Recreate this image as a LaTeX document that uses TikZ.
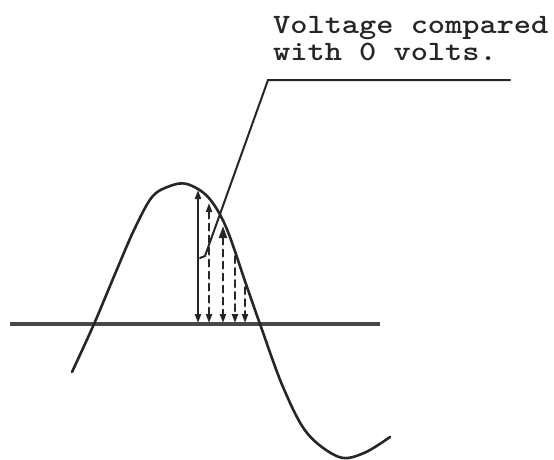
\documentclass[tikz,border=0pt]{standalone}
\usepackage{graphicx}
\usetikzlibrary{arrows.meta}
\begin{document}
\begin{tikzpicture}[x=1pt,y=-1pt,
  ink/.style={draw=black!85, line cap=round},
  curve/.style={ink, line width=2.6pt},
  axisline/.style={draw=black!72, line width=3.4pt},
  leader/.style={ink, line width=2pt},
  tip/.style={-{Triangle[length=9pt,width=6pt]}},
  dtip/.style={{Triangle[length=9pt,width=6pt]}-{Triangle[length=9pt,width=6pt]}},
  dashline/.style={ink, line width=2pt, dash pattern=on 7pt off 5pt},
  label/.style={anchor=base west, inner sep=0pt, text=black!85, font=\fontsize{28}{26}\selectfont\ttfamily\bfseries}]
\useasboundingbox (0,0) rectangle (554,459);
% axis
\coordinate (a1) at (10,324);
\coordinate (a2) at (380,324);
\draw[axisline] (a1) -- (a2);
% sine wave
\draw[curve] plot[smooth, tension=0.55] coordinates {(72,372) (94,324) (115,274) (134,230) (152,197) (170,186) (187,184) (208,197) (226,227) (247,287) (260,324) (283,387) (307,433) (339,457) (364,453) (390,437)};
% solid double arrow
\coordinate (s1) at (198,190);
\coordinate (s0) at (198,323);
\draw[ink, line width=2pt, dtip] (s0) -- (s1);
% dashed arrows
\coordinate (d1t) at (209,203);
\coordinate (d1b) at (209,323);
\coordinate (d2t) at (223,226);
\coordinate (d2b) at (223,323);
\coordinate (d3t) at (235,256);
\coordinate (d3b) at (235,323);
\coordinate (d4t) at (245,287);
\coordinate (d4b) at (245,323);
\draw[dashline, dtip] (d1b) -- (d1t);
\draw[dashline, {Triangle[length=12pt,width=8pt]}-{Triangle[length=9pt,width=6pt]}] (d2t) -- (d2b);
\draw[dashline, tip] (d3t) -- (d3b);
\draw[dashline, tip] (d4t) -- (d4b);
% leader and label
\coordinate (lh) at (510,80);
\coordinate (lc) at (268,80);
\coordinate (le) at (205,256);
\coordinate (lk) at (200,258);
\draw[leader] (lh) -- (lc) -- (le) -- (lk);
\node[label] (t1) at (273,33) {\scalebox{1.17}[1]{Voltage compared}};
\node[label] (t2) at (273,60) {\scalebox{1.17}[1]{with 0 volts.}};
\end{tikzpicture}
\end{document}
